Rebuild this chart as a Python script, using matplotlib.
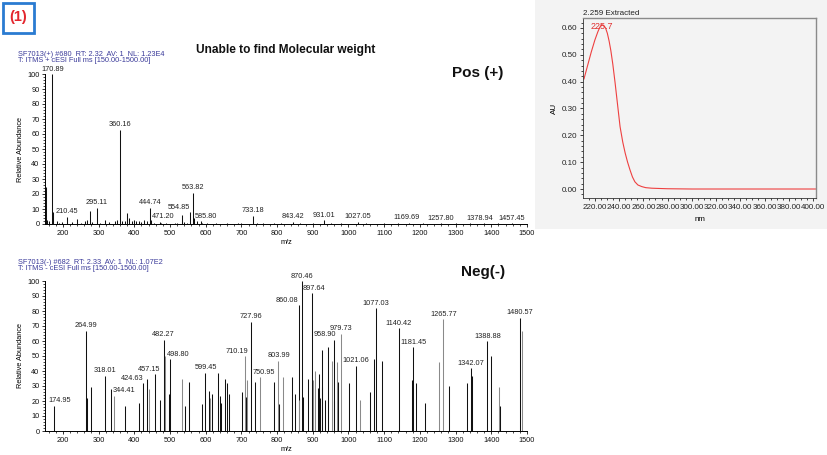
import matplotlib
matplotlib.use('Agg')
import matplotlib.pyplot as plt
from matplotlib.patches import Rectangle
from matplotlib.ticker import MultipleLocator, FormatStrFormatter

plt.rcParams['font.family'] = ['Liberation Sans', 'DejaVu Sans']

# ---------------- data ----------------
pos_mz = [152, 155, 160, 170.89, 173, 185, 190, 198, 210.45, 225, 240, 250, 262, 268, 276, 283,
          295.11, 305, 317, 330, 345, 352, 360.16, 366, 375, 380, 386, 393, 400, 405, 413, 420,
          428, 437, 444.74, 448, 455, 471.20, 475, 490, 513, 520, 534, 540, 548, 554.85, 563.82,
          567, 575, 585.80, 590, 605, 630, 660, 690, 700, 733.18, 745, 760, 790, 810, 843.42,
          865, 900, 931.01, 950, 980, 1027.05, 1050, 1100, 1140, 1169.69, 1210, 1257.80, 1300,
          1340, 1378.94, 1420, 1457.45]
pos_int = [25, 3, 2, 100, 8, 2, 1, 1.5, 5, 1.5, 3.5, 1, 2, 3, 9, 1.5,
           11, 1, 3, 1.5, 2, 3, 63, 2, 2, 7.5, 4, 2, 3, 2, 2, 1.5,
           2.5, 2, 11, 3, 1, 1.5, 1, 1, 1, 1, 6, 1.5, 1, 8, 21,
           4, 2, 2, 1, 1, 0.8, 0.8, 1, 0.8, 5.5, 0.8, 0.7, 1, 0.7, 1.5,
           0.8, 0.6, 2.5, 0.8, 0.7, 1.5, 0.6, 0.5, 0.5, 1, 0.5, 0.7, 0.5,
           0.5, 0.6, 0.5, 0.7]
pos_labels = [170.89, 210.45, 295.11, 360.16, 444.74, 471.20, 554.85, 563.82, 585.80, 733.18,
              843.42, 931.01, 1027.05, 1169.69, 1257.80, 1378.94, 1457.45]

neg_mz = [174.95, 264.99, 268, 280, 318.01, 334, 344.41, 374, 414, 424.63, 437, 442, 457.15, 472,
          482.27, 486, 496, 498.80, 534, 543, 554, 590, 599.45, 609, 612, 618, 635, 640, 644, 655,
          660, 664, 702, 710.19, 712, 715, 727.96, 737, 750.95, 790, 803.99, 805, 816, 841, 851,
          860.08, 862, 870.46, 873, 887, 897.64, 901, 906, 915, 918, 921, 925, 927, 933, 943, 954,
          958.90, 960, 967, 971, 979.73, 1002, 1021.06, 1031, 1059, 1072, 1077.03, 1094, 1140.42,
          1177, 1181.45, 1189, 1213, 1254, 1265.77, 1281, 1332, 1342.07, 1346, 1388.88, 1399,
          1422, 1423, 1480.57, 1487]
neg_int = [17, 67, 22, 29.5, 37, 28, 23.5, 17, 19, 32, 35, 28, 38, 21,
           61, 50, 25, 48, 34.5, 17, 32.5, 18, 39, 26.5, 22, 25, 39, 23.5, 19, 34.5,
           32, 24.5, 26, 50, 23, 34, 73, 33, 36, 32.5, 47, 18, 36, 36, 25,
           84, 20.7, 100, 22.7, 34.4, 92, 34, 40, 29, 38, 22, 54, 29.5, 20.7, 56, 47,
           61, 20, 46, 33, 65, 32, 43.5, 21, 26, 48, 82, 47, 68.5,
           34, 56, 32, 19, 46, 74.4, 30, 32, 42, 37, 60, 50,
           29.5, 17, 75.5, 67]
neg_labels = [174.95, 264.99, 318.01, 344.41, 424.63, 457.15, 482.27, 498.80, 599.45, 710.19,
              727.96, 750.95, 803.99, 860.08, 870.46, 897.64, 958.90, 979.73, 1021.06, 1077.03,
              1140.42, 1181.45, 1265.77, 1342.07, 1388.88, 1480.57]

uv_nm = [211, 214, 217, 220, 222.4, 224, 225.7, 227.2, 228.8, 230.3, 231.8, 233.2, 234.8,
         236.7, 238.7, 240.8, 243, 245, 247, 249, 251, 253, 255.5, 258.7, 262, 267, 273, 280,
         300, 350, 402]
uv_au = [0.41, 0.46, 0.51, 0.555, 0.585, 0.602, 0.612, 0.61, 0.6, 0.58, 0.55, 0.515, 0.465,
         0.395, 0.315, 0.232, 0.175, 0.134, 0.1, 0.071, 0.045, 0.027, 0.015, 0.009, 0.005, 0.003,
         0.002, 0.001, 0.0, 0.0, 0.0]
uv_peak = 225.7

pos_header = ["SF7013(+) #680  RT: 2.32  AV: 1  NL: 1.23E4",
              "T: ITMS + cESI Full ms [150.00-1500.00]"]
neg_header = ["SF7013(-) #682  RT: 2.33  AV: 1  NL: 1.07E2",
              "T: ITMS - cESI Full ms [150.00-1500.00]"]

# ---------------- styling / layout ----------------
W, H = 827, 455
fig = plt.figure(figsize=(W / 100, H / 100), dpi=100)
fig.patch.set_facecolor('white')

def fxy(px, py):
    return px / W, 1 - py / H

def axes_px(l, t, r, b, **kw):
    return fig.add_axes([l / W, 1 - b / H, (r - l) / W, (b - t) / H], **kw)

# label offsets (points) for labels not centred over their peak
pos_dx = {554.85: -7.5, 471.20: 2.5, 585.80: 3.5, 1169.69: -2, 1378.94: -3}
neg_dx = {174.95: 4.5, 344.41: 7.0, 424.63: -7.5, 457.15: -4, 498.80: 6.5, 710.19: -6,
          750.95: 3.2, 860.08: -8, 958.90: -6.5, 897.64: 1.8}
neg_gray = {344.41, 442, 486, 534, 612, 710.19, 715, 750.95, 803.99, 816, 862, 901, 906, 954,
            967, 979.73, 1031, 1254, 1265.77, 1422, 1487}

FS = 5.3
hdr_color = '#3b3b9a'


def spectrum(ax, mz, inten, labels, dx, gray=()):
    cols = ['#8a8a8a' if m in gray else '#111111' for m in mz]
    ax.vlines(mz, 0, inten, colors=cols, lw=0.75)
    ax.set_xlim(150, 1500)
    ax.set_ylim(0, 100)
    for s in ['top', 'right']:
        ax.spines[s].set_visible(False)
    for s in ['left', 'bottom']:
        ax.spines[s].set_linewidth(0.7)
    ax.xaxis.set_minor_locator(MultipleLocator(20))
    ax.yaxis.set_major_locator(MultipleLocator(10))
    ax.yaxis.set_minor_locator(MultipleLocator(2))
    ax.set_xticks(range(200, 1501, 100))
    ax.tick_params(which='major', length=2.5, width=0.6, labelsize=FS, pad=1.5, colors='#111')
    ax.tick_params(which='minor', length=1.4, width=0.5)
    ax.set_ylabel('Relative Abundance', fontsize=FS, labelpad=2)
    ax.set_xlabel('m/z', fontsize=FS, labelpad=2)
    ax.patch.set_alpha(0)
    lookup = dict(zip(mz, inten))
    for m in labels:
        ax.annotate(f"{m:.2f}", (m, lookup[m]), xytext=(dx.get(m, 0), 1.0),
                    textcoords='offset points', ha='center', va='bottom',
                    fontsize=FS, color='#222222', annotation_clip=False)


# positive spectrum
ax_pos = axes_px(45, 74, 527, 224)
spectrum(ax_pos, pos_mz, pos_int, pos_labels, pos_dx)

# negative spectrum
ax_neg = axes_px(45, 281, 527, 431)
spectrum(ax_neg, neg_mz, neg_int, neg_labels, neg_dx, neg_gray)

# headers
for i, line in enumerate(pos_header):
    fig.text(*fxy(18, 54 + 7 * i), line, fontsize=FS, color=hdr_color, ha='left', va='center')
for i, line in enumerate(neg_header):
    fig.text(*fxy(18, 262 + 7 * i), line, fontsize=FS, color=hdr_color, ha='left', va='center')

fig.text(*fxy(286, 50), 'Unable to find Molecular weight', fontsize=8.6, fontweight='bold',
         ha='center', va='center', color='#111')
fig.text(*fxy(478, 73), 'Pos (+)', fontsize=11, fontweight='bold', ha='center', va='center',
         color='#111')
fig.text(*fxy(483, 272), 'Neg(-)', fontsize=11, fontweight='bold', ha='center', va='center',
         color='#111')

# (1) box
bx0, by0 = fxy(3, 33)
fig.patches.append(Rectangle((bx0, by0), 31 / W, 30 / H, transform=fig.transFigure,
                             fill=False, edgecolor='#2a7bd1', lw=2.0))
fig.text(*fxy(18.5, 17), '(1)', fontsize=10.5, fontweight='bold', color='#e3262e',
         ha='center', va='center')

# UV panel background (drawn beneath the axes)
px0, py0 = fxy(535, 229)
fig.patches.append(Rectangle((px0, py0), (W - 535) / W, 229 / H, transform=fig.transFigure,
                             facecolor='#f3f3f3', edgecolor='none', zorder=-5))

ax_uv = axes_px(583, 18, 816, 198)
ax_uv.set_zorder(2)
ax_uv.set_facecolor('#f3f3f3')
ax_uv.plot(uv_nm, uv_au, color='#ee4040', lw=0.8)
ax_uv.set_xlim(210.2, 402.5)
ax_uv.set_ylim(-0.0335, 0.637)
ax_uv.xaxis.set_minor_locator(MultipleLocator(5))
ax_uv.yaxis.set_major_locator(MultipleLocator(0.1))
ax_uv.yaxis.set_minor_locator(MultipleLocator(0.02))
ax_uv.xaxis.set_major_formatter(FormatStrFormatter('%.2f'))
ax_uv.yaxis.set_major_formatter(FormatStrFormatter('%.2f'))
ax_uv.set_xticks([220, 240, 260, 280, 300, 320, 340, 360, 380, 400])
ax_uv.tick_params(which='major', length=2.5, width=0.6, labelsize=5.8, pad=1.5, colors='#222')
ax_uv.tick_params(which='minor', length=1.4, width=0.5)
for s in ['top', 'right']:
    ax_uv.spines[s].set_color('#8a8a8a')
    ax_uv.spines[s].set_linewidth(1.0)
for s in ['left', 'bottom']:
    ax_uv.spines[s].set_color('#333333')
    ax_uv.spines[s].set_linewidth(0.6)
ax_uv.set_ylabel('AU', fontsize=5.8, labelpad=3)
ax_uv.set_xlabel('nm', fontsize=5.8, labelpad=4)
ax_uv.text(0, 1.005, '2.259 Extracted', transform=ax_uv.transAxes, fontsize=5.8,
           ha='left', va='bottom', color='#222')
peak_val = uv_au[uv_nm.index(uv_peak)]
ax_uv.annotate(f"{uv_peak}", (uv_peak, peak_val), xytext=(0, -1.5), textcoords='offset points',
               ha='center', va='center', fontsize=6.5, color='#e03030')

fig.savefig('out.png', dpi=100)
